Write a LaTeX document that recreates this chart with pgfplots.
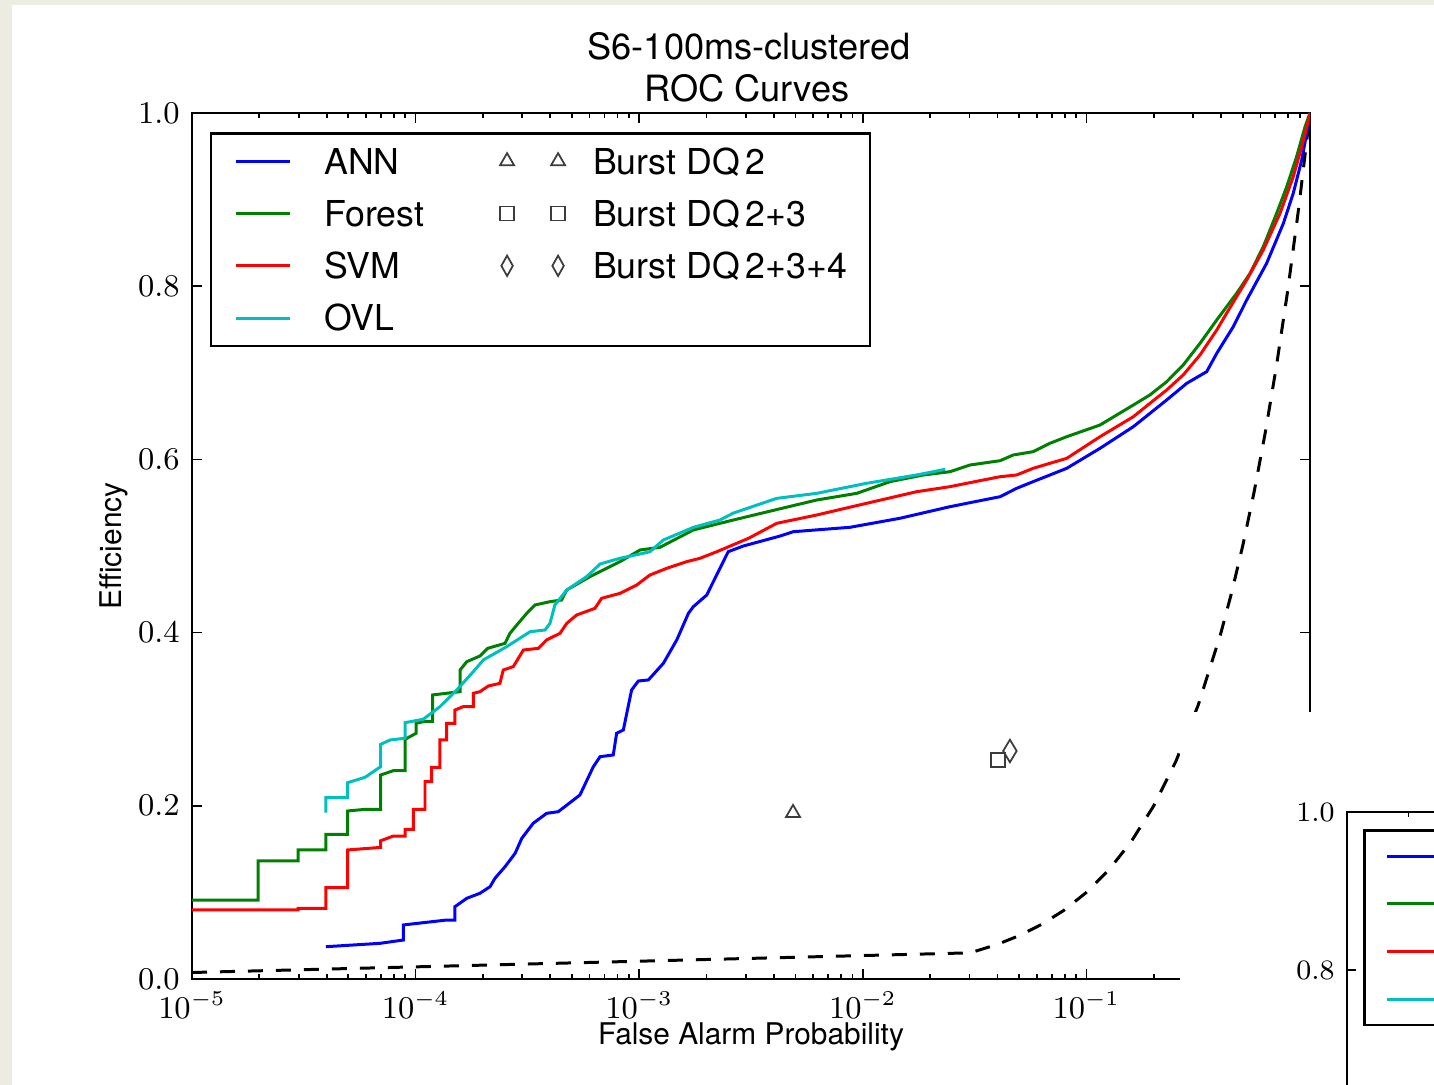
\documentclass[border=0pt]{standalone}
\usepackage[no-math]{fontspec}
\setmainfont{TeX Gyre Heros}
\usepackage{pgfplots}
\pgfplotsset{compat=1.18}
\usepackage{pgfplotstable}

\definecolor{annblue}{rgb}{0,0,1}
\definecolor{forestgreen}{rgb}{0,0.5,0}
\definecolor{svmred}{rgb}{1,0,0}
\definecolor{ovlcyan}{rgb}{0,0.75,0.75}
\definecolor{paper}{RGB}{236,236,226}
\definecolor{markgray}{RGB}{60,60,60}

% x is log10(false alarm probability)
\pgfplotstableread{
lfap eff
-4.401 0.0373
-4.159 0.0412
-4.055 0.0450
-4.055 0.0624
-3.861 0.0681
-3.824 0.0681
-3.824 0.0835
-3.771 0.0932
-3.712 0.0990
-3.667 0.1066
-3.645 0.1163
-3.600 0.1297
-3.555 0.1451
-3.525 0.1625
-3.474 0.1798
-3.414 0.1913
-3.362 0.1932
-3.265 0.2125
-3.205 0.2452
-3.175 0.2567
-3.116 0.2587
-3.101 0.2837
-3.071 0.2875
-3.034 0.3337
-3.004 0.3441
-2.959 0.3453
-2.892 0.3645
-2.832 0.3915
-2.780 0.4222
-2.758 0.4299
-2.698 0.4434
-2.602 0.4934
-2.534 0.5000
-2.370 0.5115
-2.311 0.5165
-2.057 0.5216
-1.834 0.5320
-1.610 0.5454
-1.461 0.5531
-1.386 0.5569
-1.312 0.5666
-1.238 0.5743
-1.163 0.5820
-1.088 0.5897
-0.939 0.6128
-0.790 0.6378
-0.641 0.6686
-0.551 0.6879
-0.462 0.7013
-0.417 0.7225
-0.343 0.7533
-0.283 0.7841
-0.194 0.8264
-0.119 0.8726
-0.075 0.9072
-0.037 0.9457
-0.015 0.9765
0.000 1.0000
}\annroc

\pgfplotstableread{
lfap eff
-5.000 0.0912
-4.704 0.0912
-4.704 0.1363
-4.525 0.1363
-4.525 0.1490
-4.401 0.1490
-4.401 0.1670
-4.304 0.1670
-4.304 0.1940
-4.222 0.1960
-4.156 0.1960
-4.156 0.2356
-4.100 0.2405
-4.047 0.2405
-4.047 0.2768
-3.998 0.2837
-3.998 0.2953
-3.958 0.2975
-3.924 0.2975
-3.924 0.3280
-3.801 0.3318
-3.801 0.3568
-3.771 0.3664
-3.712 0.3730
-3.678 0.3818
-3.600 0.3876
-3.578 0.3992
-3.541 0.4107
-3.503 0.4222
-3.466 0.4319
-3.399 0.4357
-3.347 0.4376
-3.324 0.4492
-3.220 0.4646
-3.131 0.4761
-3.086 0.4819
-2.996 0.4954
-2.907 0.4985
-2.758 0.5185
-2.579 0.5300
-2.370 0.5430
-2.206 0.5531
-2.027 0.5608
-1.878 0.5743
-1.729 0.5820
-1.610 0.5858
-1.521 0.5935
-1.386 0.5985
-1.327 0.6051
-1.238 0.6089
-1.163 0.6186
-1.088 0.6262
-0.939 0.6397
-0.790 0.6628
-0.716 0.6744
-0.641 0.6897
-0.567 0.7090
-0.492 0.7340
-0.417 0.7610
-0.328 0.7918
-0.268 0.8149
-0.209 0.8456
-0.149 0.8842
-0.104 0.9149
-0.060 0.9495
-0.022 0.9842
0.000 1.0000
}\forestroc

\pgfplotstableread{
lfap eff
-5.000 0.0797
-4.525 0.0797
-4.525 0.0816
-4.401 0.0816
-4.401 0.1055
-4.304 0.1055
-4.304 0.1490
-4.156 0.1520
-4.156 0.1597
-4.100 0.1650
-4.047 0.1650
-4.047 0.1728
-4.010 0.1728
-4.010 0.1960
-3.958 0.1960
-3.958 0.2279
-3.928 0.2279
-3.928 0.2444
-3.891 0.2444
-3.891 0.2760
-3.861 0.2760
-3.861 0.2953
-3.824 0.2953
-3.824 0.3106
-3.787 0.3145
-3.742 0.3145
-3.742 0.3299
-3.712 0.3318
-3.675 0.3383
-3.623 0.3414
-3.608 0.3568
-3.563 0.3607
-3.518 0.3799
-3.451 0.3818
-3.414 0.3915
-3.354 0.3992
-3.324 0.4107
-3.280 0.4203
-3.198 0.4280
-3.168 0.4396
-3.086 0.4453
-3.011 0.4550
-2.952 0.4665
-2.877 0.4742
-2.788 0.4819
-2.728 0.4858
-2.653 0.4934
-2.510 0.5090
-2.385 0.5262
-2.206 0.5358
-1.983 0.5493
-1.759 0.5627
-1.610 0.5685
-1.461 0.5762
-1.386 0.5800
-1.312 0.5820
-1.238 0.5897
-1.163 0.5955
-1.088 0.6012
-0.939 0.6262
-0.790 0.6493
-0.716 0.6647
-0.641 0.6801
-0.567 0.6975
-0.492 0.7206
-0.417 0.7494
-0.373 0.7687
-0.283 0.8072
-0.209 0.8418
-0.134 0.8842
-0.075 0.9264
-0.037 0.9610
-0.003 0.9957
0.000 1.0000
}\svmroc

\pgfplotstableread{
lfap eff
-4.401 0.1920
-4.401 0.2094
-4.304 0.2094
-4.304 0.2267
-4.226 0.2329
-4.156 0.2452
-4.156 0.2710
-4.114 0.2760
-4.047 0.2780
-4.047 0.2960
-3.966 0.2999
-3.891 0.3145
-3.816 0.3337
-3.742 0.3549
-3.697 0.3684
-3.593 0.3837
-3.488 0.4010
-3.421 0.4030
-3.399 0.4107
-3.377 0.4319
-3.324 0.4492
-3.235 0.4646
-3.175 0.4792
-3.086 0.4858
-2.982 0.4916
-2.952 0.4934
-2.892 0.5069
-2.758 0.5215
-2.639 0.5300
-2.579 0.5380
-2.385 0.5550
-2.206 0.5608
-1.983 0.5724
-1.759 0.5820
-1.632 0.5885
}\ovlroc

\pgfplotstableread{
lfap eff
-5.00 0.0075
-1.52 0.0302
-1.40 0.0398
-1.30 0.0501
-1.20 0.0631
-1.10 0.0794
-1.00 0.1000
-0.90 0.1259
-0.80 0.1585
-0.70 0.1995
-0.60 0.2512
-0.50 0.3162
-0.40 0.3981
-0.35 0.4467
-0.30 0.5012
-0.25 0.5623
-0.20 0.6310
-0.15 0.7079
-0.10 0.7943
-0.05 0.8913
0.00 1.0000
}\chanceroc

\pgfplotsset{
  rocaxis/.style={
    scale only axis,
    xmin=-5, xmax=0, ymin=0, ymax=1,
    axis line style={line width=0.7pt},
    tick align=inside,
    every tick/.style={black, line width=0.5pt},
    xtick={-5,-4,-3,-2,-1,0},
    minor xtick={-4.6990,-4.5229,-4.3979,-4.3010,-4.2218,-4.1549,-4.0969,-4.0458,
                 -3.6990,-3.5229,-3.3979,-3.3010,-3.2218,-3.1549,-3.0969,-3.0458,
                 -2.6990,-2.5229,-2.3979,-2.3010,-2.2218,-2.1549,-2.0969,-2.0458,
                 -1.6990,-1.5229,-1.3979,-1.3010,-1.2218,-1.1549,-1.0969,-1.0458,
                 -0.6990,-0.5229,-0.3979,-0.3010,-0.2218,-0.1549,-0.0969,-0.0458},
    y tick label style={/pgf/number format/fixed,
      /pgf/number format/fixed zerofill,
      /pgf/number format/precision=1},
    legend columns=2,
    legend cell align=left,
  },
}

\begin{document}
\begin{tikzpicture}
\useasboundingbox (0,0) rectangle (14.34,10.85);
\clip (0,0) rectangle (14.34,10.85);
\fill[paper] (0,0) rectangle (14.34,10.85);
\fill[white] (0.12,0) rectangle (14.34,10.80);

\begin{axis}[
  rocaxis,
  at={(1.92cm,1.06cm)}, anchor=south west,
  width=11.18cm, height=8.66cm,
  major tick length=0.1cm, minor tick length=0.05cm,
  xticklabels={$10^{-5}$,$10^{-4}$,$10^{-3}$,$10^{-2}$,$10^{-1}$,$10^{0}$},
  ytick={0,0.2,0.4,0.6,0.8,1},
  tick label style={font=\fontsize{8.6}{10}\selectfont},
  xlabel={False Alarm Probability},
  ylabel={Efficiency},
  label style={font=\fontsize{8.5}{10}\selectfont},
  xlabel style={at={(rel axis cs:0.5,-0.0762)}, anchor=base},
  ylabel style={at={(rel axis cs:-0.0631,0.5)}, anchor=base},
  legend image code/.code={\draw[#1] (0cm,0cm) -- (0.54cm,0cm);},
  legend style={
    at={(0.0161,0.978)}, anchor=north west,
    draw=black, line width=0.7pt, fill=white,
    inner xsep=0.23cm, inner ysep=0.151cm,
    font=\fontsize{10.15}{12}\selectfont,
    nodes={inner sep=0pt, text height=7.31pt, text depth=0pt, anchor=west},
    row sep=0.266cm,
    /tikz/column 1/.style={column sep=0.33cm},
    /tikz/column 2/.style={column sep=0.76cm},
    /tikz/column 3/.style={column sep=0.28cm},
  },
]
\addplot[black, line width=0.85pt, dash pattern=on 1.5mm off 1.3mm, forget plot]
  table[x=lfap, y=eff] {\chanceroc};
\addplot[annblue, line width=0.85pt, forget plot] table[x=lfap, y=eff] {\annroc};
\addplot[forestgreen, line width=0.85pt, forget plot] table[x=lfap, y=eff] {\forestroc};
\addplot[svmred, line width=0.85pt, forget plot] table[x=lfap, y=eff] {\svmroc};
\addplot[ovlcyan, line width=0.85pt, forget plot] table[x=lfap, y=eff] {\ovlroc};
\addplot[only marks, mark=triangle, mark size=2.3pt,
  mark options={draw=markgray, line width=0.5pt, fill=none}, forget plot]
  coordinates {(-2.312,0.1917)};
\addplot[only marks, mark=square, mark size=2.0pt,
  mark options={draw=markgray, line width=0.5pt, fill=none}, forget plot]
  coordinates {(-1.395,0.2529)};
\addplot[only marks, mark=diamond, mark size=3.2pt,
  mark options={draw=markgray, line width=0.5pt, fill=none, xscale=0.8}, forget plot]
  coordinates {(-1.342,0.2633)};

\addlegendimage{annblue, line width=0.85pt}
\addlegendentry{ANN}
\addlegendimage{legend image code/.code={\draw[markgray, line width=0.5pt, mark=triangle, mark size=2.3pt, only marks] plot coordinates {(0cm,0cm) (0.51cm,0cm)};}}
\addlegendentry{Burst DQ\,2}
\addlegendimage{forestgreen, line width=0.85pt}
\addlegendentry{Forest}
\addlegendimage{legend image code/.code={\draw[markgray, line width=0.5pt, mark=square, mark size=2.0pt, only marks] plot coordinates {(0cm,0cm) (0.51cm,0cm)};}}
\addlegendentry{Burst DQ\,2+3}
\addlegendimage{svmred, line width=0.85pt}
\addlegendentry{SVM}
\addlegendimage{legend image code/.code={\draw[markgray, line width=0.5pt, mark=diamond, mark size=2.9pt, mark options={xscale=0.75}, only marks] plot coordinates {(0cm,0cm) (0.51cm,0cm)};}}
\addlegendentry{Burst DQ\,2+3+4}
\addlegendimage{ovlcyan, line width=0.85pt}
\addlegendentry{OVL}
\end{axis}

\node[font=\fontsize{10.3}{12}\selectfont, anchor=base] at (7.49,10.255) {S6-100ms-clustered};
\node[font=\fontsize{10.3}{12}\selectfont, anchor=base] at (7.47,9.833) {ROC Curves};

% second window lying over the lower right corner; only its upper left corner shows
\fill[white] (11.80,0) rectangle (14.34,3.73);

\begin{axis}[
  rocaxis,
  at={(13.47cm,2.73cm)}, anchor=north west,
  width=10.21cm, height=7.90cm,
  major tick length=0.091cm, minor tick length=0.046cm,
  xticklabels={},
  ytick={0.8,1},
  tick label style={font=\fontsize{7.85}{9}\selectfont},
  legend image code/.code={\draw[#1] (0cm,0cm) -- (0.493cm,0cm);},
  legend style={
    at={(0.0161,0.978)}, anchor=north west,
    draw=black, line width=0.7pt, fill=white,
    inner xsep=0.21cm, inner ysep=0.138cm,
    font=\fontsize{9.27}{11}\selectfont,
    nodes={inner sep=0pt, text height=6.67pt, text depth=0pt, anchor=west},
    row sep=0.243cm,
    /tikz/column 1/.style={column sep=0.34cm},
    /tikz/column 2/.style={column sep=0.71cm},
    /tikz/column 3/.style={column sep=0.27cm},
  },
]
\addlegendimage{annblue, line width=0.85pt}
\addlegendentry{\mbox{}}
\addlegendimage{legend image code/.code={\draw[markgray, line width=0.5pt, mark=triangle, mark size=2.1pt, only marks] plot coordinates {(0cm,0cm) (0.466cm,0cm)};}}
\addlegendentry{\mbox{}}
\addlegendimage{forestgreen, line width=0.85pt}
\addlegendentry{\mbox{}}
\addlegendimage{legend image code/.code={\draw[markgray, line width=0.5pt, mark=square, mark size=1.83pt, only marks] plot coordinates {(0cm,0cm) (0.466cm,0cm)};}}
\addlegendentry{\mbox{}}
\addlegendimage{svmred, line width=0.85pt}
\addlegendentry{\mbox{}}
\addlegendimage{legend image code/.code={\draw[markgray, line width=0.5pt, mark=diamond, mark size=2.65pt, mark options={xscale=0.75}, only marks] plot coordinates {(0cm,0cm) (0.466cm,0cm)};}}
\addlegendentry{\mbox{}}
\addlegendimage{ovlcyan, line width=0.85pt}
\addlegendentry{\mbox{}}
\end{axis}
\end{tikzpicture}
\end{document}
